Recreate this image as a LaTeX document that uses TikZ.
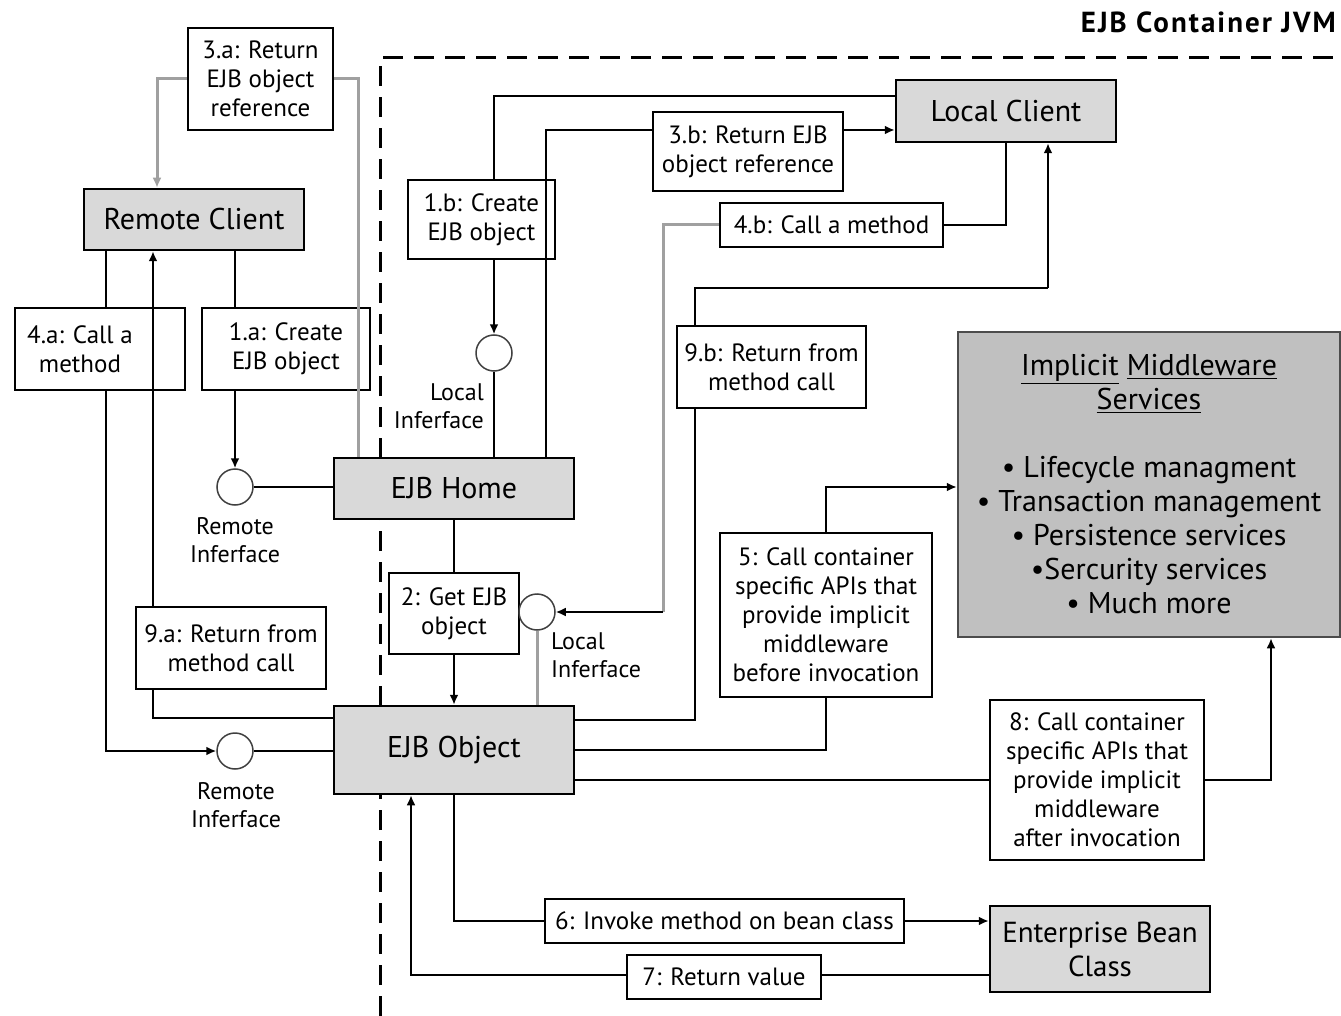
\documentclass[tikz,border=0pt]{standalone}
\usepackage{fontspec}
\setmainfont{PT Sans}
\usetikzlibrary{arrows.meta,calc}
\definecolor{mainfill}{HTML}{D9D9D9}
\definecolor{mwfill}{HTML}{C0C0C0}
\definecolor{gline}{HTML}{A0A0A0}
\begin{document}
\begin{tikzpicture}[x=1pt,y=-1pt,
  box/.style={draw=black,line width=2.5pt,fill=white,inner sep=0pt,align=center,font=\fontsize{25}{29}\selectfont},
  mainbox/.style={box,fill=mainfill,font=\fontsize{30}{34}\selectfont},
  ifc/.style={circle,draw=black!75,line width=1.5pt,fill=white,minimum size=36pt,inner sep=0pt},
  lbl/.style={inner sep=0pt,font=\fontsize{24}{28}\selectfont},
  conn/.style={draw=black,line width=2pt},
  gconn/.style={draw=gline,line width=3pt},
  arr/.style={-{Latex[length=10pt,width=9pt]}},
  cont/.style={draw=black,line width=3pt,dash pattern=on 20pt off 11pt}
]
\useasboundingbox[fill=white] (0,0) rectangle (1341,1016);

% container
\draw[cont] (380,1016) -- (380,58) -- (1341,58);
\node[anchor=east,inner sep=0pt,font=\fontsize{29}{32}\selectfont\bfseries\addfontfeatures{LetterSpace=7}] (jvm) at (1336,22) {EJB Container JVM};

% main nodes
\node[mainbox,minimum width=220pt,minimum height=61pt] (remote) at (194,219.5) {Remote Client};
\node[mainbox,minimum width=220pt,minimum height=62pt] (local) at (1006,111) {Local Client};
\node[mainbox,minimum width=240pt,minimum height=61pt] (home) at (454,488.5) {EJB Home};
\node[mainbox,minimum width=240pt,minimum height=88pt] (obj) at (454,750) {EJB Object};
\node[mainbox,minimum width=220pt,minimum height=86pt,font=\fontsize{29}{34}\selectfont] (bean) at (1100,949) {Enterprise Bean\\Class};
\node[box,draw=black!70,fill=mwfill,minimum width=382pt,minimum height=305pt,font=\fontsize{30}{34}\selectfont] (imw) at (1149,484.5)
  {\underline{Implicit} \underline{Middleware}\\\underline{Services}\\[34pt]%
   • Lifecycle managment\\• Transaction management\\• Persistence services\\•Sercurity services\\• Much more};

% label boxes
\node[box,minimum width=145pt,minimum height=102pt] (b3a) at (260.5,79) {3.a: Return\\EJB object\\reference};
\node[box,minimum width=170pt,minimum height=82pt] (b4a) at (100,349) {};
\node[box,draw=none,fill=none] (b4at) at (80,349) {4.a: Call a\\method};
\node[box,minimum width=168pt,minimum height=82pt] (b1a) at (286,349) {1.a: Create\\EJB object};
\node[box,minimum width=147pt,minimum height=79pt] (b1b) at (481.5,219.5) {1.b: Create\\EJB object};
\node[box,minimum width=190pt,minimum height=79pt] (b3b) at (748,151.5) {3.b: Return EJB\\object reference};
\node[box,minimum width=223pt,minimum height=44pt] (b4b) at (831.5,225) {4.b: Call a method};
\node[box,minimum width=189pt,minimum height=82pt] (b9b) at (771.5,367) {9.b: Return from\\method call};
\node[box,minimum width=212pt,minimum height=164pt] (b5) at (826,615) {5: Call container\\specific APIs that\\provide implicit\\middleware\\before invocation};
\node[box,minimum width=130pt,minimum height=81pt] (b2) at (454,613.5) {2: Get EJB\\object};
\node[box,minimum width=190pt,minimum height=82pt] (b9a) at (231,648) {9.a: Return from\\method call};
\node[box,minimum width=214pt,minimum height=160pt] (b8) at (1097,780) {8: Call container\\specific APIs that\\provide implicit\\middleware\\after invocation};
\node[box,minimum width=359pt,minimum height=44pt] (b6) at (724.5,921) {6: Invoke method on bean class};
\node[box,minimum width=194pt,minimum height=44pt] (b7) at (724,977) {7: Return value};

% interfaces
\node[ifc] (rc1) at (235,487) {};
\node[ifc] (rc2) at (235,751) {};
\node[ifc] (lc1) at (494,353) {};
\node[ifc] (lc2) at (537,612) {};
\node[lbl,align=center] (rc1l) at (235,540) {Remote\\Inferface};
\node[lbl,align=center] (rc2l) at (236,805) {Remote\\Inferface};
\node[lbl,align=right,anchor=east] (lc1l) at (484,406) {Local\\Inferface};
\node[lbl,align=left,anchor=west] (lc2l) at (551,655) {Local\\Inferface};

% helper positions
\coordinate (x4a) at (106,0);
\coordinate (x9a) at (153,0);
\coordinate (x3a) at (157,0);
\coordinate (xh) at (358,0);
\coordinate (x3b) at (546,0);
\coordinate (x9b) at (695,0);
\coordinate (x7) at (411,0);
\coordinate (x8) at (1271,0);
\coordinate (k4b) at (663,612);
\coordinate (t9b) at (1048,288);
\coordinate (y3b) at (0,130);
\coordinate (y1b) at (0,96);
\coordinate (y9a) at (0,718);
\coordinate (y9b) at (0,720);
\coordinate (y5) at (0,487);
\coordinate (y7) at (0,975);

% 3.a (gray)
\draw[gconn] (home.north -| xh) |- (b3a.east);
\draw[gconn,arr] (b3a.west) -| (remote.north -| x3a);

% 1.a
\draw[conn] (remote.south -| rc1) -- (b1a.north -| rc1);
\draw[conn,arr] (b1a.south -| rc1) -- (rc1.north);

% 4.a
\draw[conn] (remote.south -| x4a) -- (b4a.north -| x4a);
\draw[conn,arr] (b4a.south -| x4a) |- (rc2.west);

% 9.a
\draw[conn] (obj.west |- y9a) -| (b9a.south -| x9a);
\draw[conn,arr] (b9a.north -| x9a) -- (remote.south -| x9a);

% interfaces to home/object
\draw[conn] (rc1.east) -- (rc1.east -| home.west);
\draw[conn] (rc2.east) -- (rc2.east -| obj.west);
\draw[conn] (home.north -| lc1) -- (lc1.south);

% 1.b
\draw[conn] (local.west |- y1b) -| (b1b.north -| lc1);
\draw[conn,arr] (b1b.south -| lc1) -- (lc1.north);

% 3.b
\draw[conn] (home.north -| x3b) |- (b3b.west |- y3b);
\draw[conn,arr] (b3b.east |- y3b) -- (local.west |- y3b);

% 4.b
\draw[conn] (local.south) |- (b4b.east);
\draw[gconn] (b4b.west) -| (k4b);
\draw[conn,arr] (k4b) -- (lc2.east);
\draw[gconn] (lc2.south) -- (lc2.south |- obj.north);

% 9.b
\draw[conn] (obj.east |- y9b) -| (b9b.south -| x9b);
\draw[conn] (b9b.north -| x9b) |- (t9b);
\draw[conn,arr] (t9b) -- (t9b |- local.south);

% 2
\draw[conn] (home.south) -- (b2.north);
\draw[conn,arr] (b2.south) -- (obj.north);

% 5
\draw[conn] (obj.east) -| (b5.south);
\draw[conn,arr] (b5.north) |- (imw.west |- y5);

% 8
\draw[conn] (b8.west -| obj.east) -- (b8.west);
\draw[conn,arr] (b8.east) -| (imw.south -| x8);

% 6
\draw[conn] (obj.south) |- (b6.west);
\draw[conn,arr] (b6.east) -- (b6.east -| bean.west);

% 7
\draw[conn] (bean.west |- y7) -- (b7.east |- y7);
\draw[conn,arr] (b7.west |- y7) -| (obj.south -| x7);
\end{tikzpicture}
\end{document}
